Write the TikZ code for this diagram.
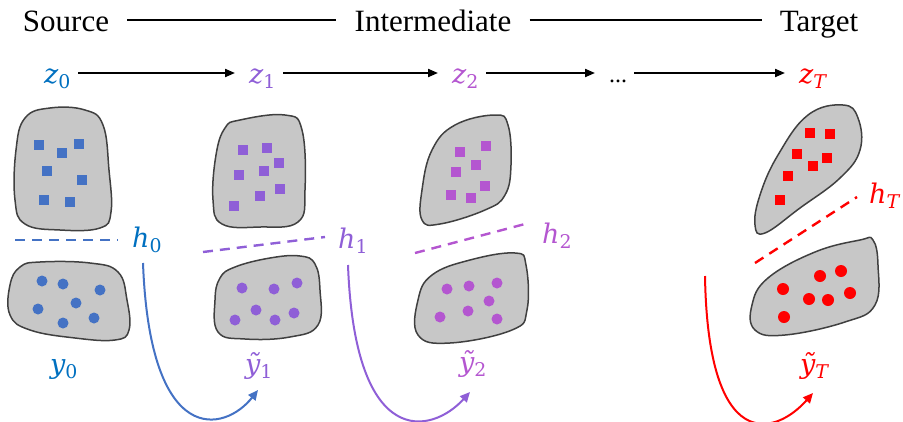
\documentclass[tikz,border=0pt]{standalone}
\usepackage{fontspec}
\setmainfont{Liberation Serif}
\newfontfamily\varfont{DejaVu Serif}
\usetikzlibrary{arrows.meta}
\definecolor{srcblue}{RGB}{68,114,196}
\definecolor{srctext}{RGB}{0,112,192}
\definecolor{midviolet}{RGB}{143,95,215}
\definecolor{midorchid}{RGB}{180,86,208}
\definecolor{tgtred}{RGB}{255,0,0}
\newcommand\lv[2]{{\varfont\itshape #1\textsubscript{\upshape #2}}}

\begin{document}
\begin{tikzpicture}[
  x=1pt,
  y=-1pt,
  stage/.style={font=\fontsize{31}{36}\selectfont,inner xsep=18pt,inner ysep=0pt,anchor=base},
  var/.style={font=\fontsize{27}{32}\selectfont,inner sep=0pt,anchor=base west},
  zvar/.style={var,inner xsep=7pt},
  rule/.style={line width=2pt},
  flow/.style={-{Triangle[length=10pt,width=8pt]},line width=2pt,shorten >=7pt},
  blob/.style={fill=black!22,draw=black!75,line width=1.5pt},
  bound/.style={dash pattern=on 10pt off 7pt,line width=2.4pt},
  link/.style={-{Triangle[length=10pt,width=9pt]},line width=2pt}
]
\useasboundingbox (0,0) rectangle (903,421);

% stages
\node[stage] (src) at (66,31) {Source};
\node[stage] (inter) at (433,31) {Intermediate};
\node[stage] (tgt) at (819,31) {Target};
\coordinate (toprow) at (0,20);
\draw[rule] (src.east |- toprow) -- (inter.west |- toprow);
\draw[rule] (inter.east |- toprow) -- (tgt.west |- toprow);

% latent chain
\node[zvar,text=srctext] (z0) at (37,83) {\lv{z}{0}};
\node[zvar,text=midviolet] (z1) at (242,83) {\lv{z}{1}};
\node[zvar,text=midorchid] (z2) at (445,83) {\lv{z}{2}};
\node[zvar,font=\fontsize{24}{28}\selectfont] (dots) at (602,82) {...};
\node[zvar,text=tgtred] (zT) at (792,83) {\lv{z}{\itshape T}};
\coordinate (zrow) at (0,73);
\draw[flow] (z0.east |- zrow) -- (z1.west |- zrow);
\draw[flow] (z1.east |- zrow) -- (z2.west |- zrow);
\draw[flow] (z2.east |- zrow) -- (dots.west |- zrow);
\draw[flow] (dots.east |- zrow) -- (zT.west |- zrow);

% domains
\draw[blob] plot[smooth cycle,tension=0.7] coordinates {(50,108) (85,110) (103,125) (109,170) (111,212) (100,228) (60,230) (25,224) (15,200) (16,150) (25,118)};
\draw[blob] plot[smooth cycle,tension=0.7] coordinates {(40,262) (90,263) (118,272) (127,300) (129,330) (115,340) (75,338) (30,330) (10,315) (10,285) (20,267)};
\draw[blob] plot[smooth cycle,tension=0.7] coordinates {(240,120) (285,115) (302,130) (305,190) (298,222) (260,227) (222,224) (213,200) (216,155) (225,128)};
\draw[blob] plot[smooth cycle,tension=0.7] coordinates {(235,267) (270,258) (300,256) (315,264) (320,290) (318,325) (290,337) (245,339) (218,332) (215,300) (220,278)};
\draw[blob] plot[smooth cycle,tension=0.7] coordinates {(495,115) (508,125) (511,165) (505,195) (485,210) (440,224) (422,220) (422,190) (432,150) (455,125)};
\draw[blob] plot[smooth cycle,tension=0.7] coordinates {(515,253) (526,265) (527,310) (512,330) (450,343) (418,335) (418,300) (432,275) (470,260)};
\draw[blob] plot[smooth cycle,tension=0.7] coordinates {(843,105) (858,118) (860,150) (840,178) (800,208) (765,233) (755,225) (760,195) (778,155) (808,115)};
\draw[blob] plot[smooth cycle,tension=0.7] coordinates {(873,240) (878,265) (875,305) (845,322) (785,335) (755,330) (752,305) (768,278) (815,252) (860,240)};

% samples
\foreach \x/\y in {39/145,62/153,79/144,47/171,82/180,44/200,70/202} {
  \fill[srcblue] (\x-4.7,\y-4.7) rectangle ++(9.4,9.4);
}
\foreach \x/\y in {243/150,267/148,279/163,239/175,264/171,260/196,280/189,234/206} {
  \fill[midviolet] (\x-4.7,\y-4.7) rectangle ++(9.4,9.4);
}
\foreach \x/\y in {460/152,486/146,476/165,456/172,485/186,451/195,471/198} {
  \fill[midorchid] (\x-4.7,\y-4.7) rectangle ++(9.4,9.4);
}
\foreach \x/\y in {810/133,830/134,797/154,827/158,813/166,788/176,780/200} {
  \fill[tgtred] (\x-4.7,\y-4.7) rectangle ++(9.4,9.4);
}
\foreach \x/\y in {42/281,63/284,100/290,38/309,76/303,63/323,94/318} {
  \fill[srcblue] (\x,\y) circle[radius=5.5pt];
}
\foreach \x/\y in {242/288,274/289,297/283,256/310,235/320,275/320,294/313} {
  \fill[midviolet] (\x,\y) circle[radius=5.5pt];
}
\foreach \x/\y in {447/289,469/286,497/283,489/301,440/317,468/311,497/319} {
  \fill[midorchid] (\x,\y) circle[radius=5.5pt];
}
\foreach \x/\y in {820/276,841/271,783/289,809/299,828/300,850/293,784/317} {
  \fill[tgtred] (\x,\y) circle[radius=6pt];
}

% boundaries
\draw[bound,srcblue] (15,240) -- (118,240);
\draw[bound,midviolet] (203,252) -- (325,237);
\draw[bound,midorchid] (415,253) -- (525,224);
\draw[bound,tgtred] (755,263) -- (857,197);
\node[var,text=srctext] (h0) at (132,247) {\lv{h}{0}};
\node[var,text=midviolet] (h1) at (338,248) {\lv{h}{1}};
\node[var,text=midorchid] (h2) at (542,243) {\lv{h}{2}};
\node[var,text=tgtred] (hT) at (869,203) {\lv{h}{\itshape T}};

% labels
\node[var,text=srctext] (y0) at (50,373) {\lv{y}{0}};
\node[var,text=midviolet] (yt1) at (245,373) {\lv{ỹ}{1}};
\node[var,text=midorchid] (yt2) at (459,371) {\lv{ỹ}{2}};
\node[var,text=tgtred] (ytT) at (800,373) {\lv{ỹ}{\itshape T}};

% transfer
\coordinate (s0) at (143,263);
\coordinate (t1) at (258,390);
\coordinate (s1) at (348,265);
\coordinate (t2) at (470,392);
\coordinate (sT) at (705,276);
\coordinate (tT) at (813,393);
\draw[link,srcblue] (s0) .. controls (150,450) and (225,432) .. (t1);
\draw[link,midviolet] (s1) .. controls (355,452) and (432,434) .. (t2);
\draw[link,tgtred] (sT) .. controls (708,455) and (775,436) .. (tT);
\end{tikzpicture}
\end{document}
